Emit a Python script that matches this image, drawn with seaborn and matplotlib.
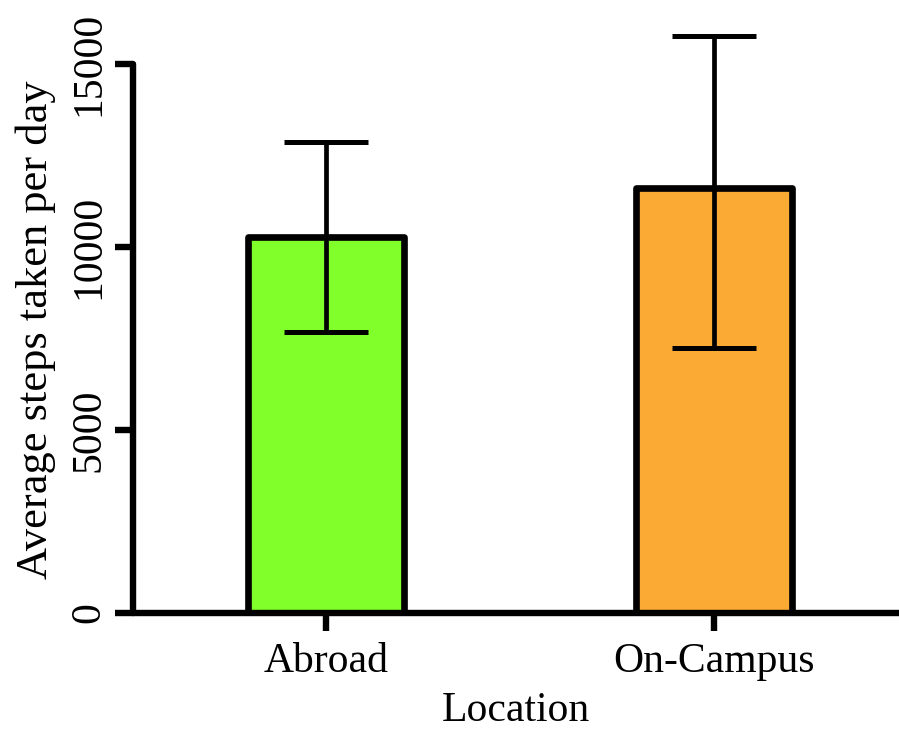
import numpy as np
import pandas as pd
import matplotlib
matplotlib.use("Agg")
import matplotlib.pyplot as plt
import seaborn as sns

# values
locations = ["Abroad", "On-Campus"]
mean_steps = [10270, 11610]
err_low = [2590, 4370]
err_high = [2600, 4160]
bar_colors = ["#80FF2A", "#FBAA33"]

df = pd.DataFrame({"Location": locations, "Steps": mean_steps})

sns.set_style("ticks")
plt.rcParams["font.family"] = ["Liberation Serif", "DejaVu Serif"]
plt.rcParams["text.color"] = "black"
plt.rcParams["axes.labelcolor"] = "black"

fig = plt.figure(figsize=(8.99, 7.3), dpi=100)
ax = fig.add_axes([0.148, 0.1603, 0.852, 0.8123])

sns.barplot(
    data=df,
    x="Location",
    y="Steps",
    hue="Location",
    palette=bar_colors,
    saturation=1,
    width=0.40,
    errorbar=None,
    legend=False,
    edgecolor="black",
    linewidth=4.8,
    ax=ax,
)
for p in ax.patches:
    p.set_joinstyle("round")

ax.errorbar(
    x=np.arange(len(locations)),
    y=mean_steps,
    yerr=[err_low, err_high],
    fmt="none",
    ecolor="black",
    elinewidth=3.4,
    capsize=30,
    capthick=3.6,
    zorder=5,
)

ax.set_xlim(-0.497, 1.477)
ax.set_ylim(0, 16200)
ax.set_yticks([0, 5000, 10000, 15000])

for side in ["top", "right"]:
    ax.spines[side].set_visible(False)
for side in ["left", "bottom"]:
    ax.spines[side].set_linewidth(4.6)
    ax.spines[side].set_color("black")
    ax.spines[side].set_capstyle("round")
ax.spines["left"].set_bounds(0, 15000)

ax.tick_params(axis="both", length=13, width=4.6, color="black",
               labelsize=30, labelcolor="black")
ax.tick_params(axis="y", pad=5)
ax.tick_params(axis="x", pad=8)
for lab in ax.get_yticklabels():
    lab.set_rotation(90)
    lab.set_va("center")

ax.set_xlabel("Location", fontsize=30, labelpad=8)
ax.set_ylabel("Average steps taken per day", fontsize=32, labelpad=10)
ax.yaxis.label.set_y(0.478)

fig.savefig("out.png", dpi=100)
